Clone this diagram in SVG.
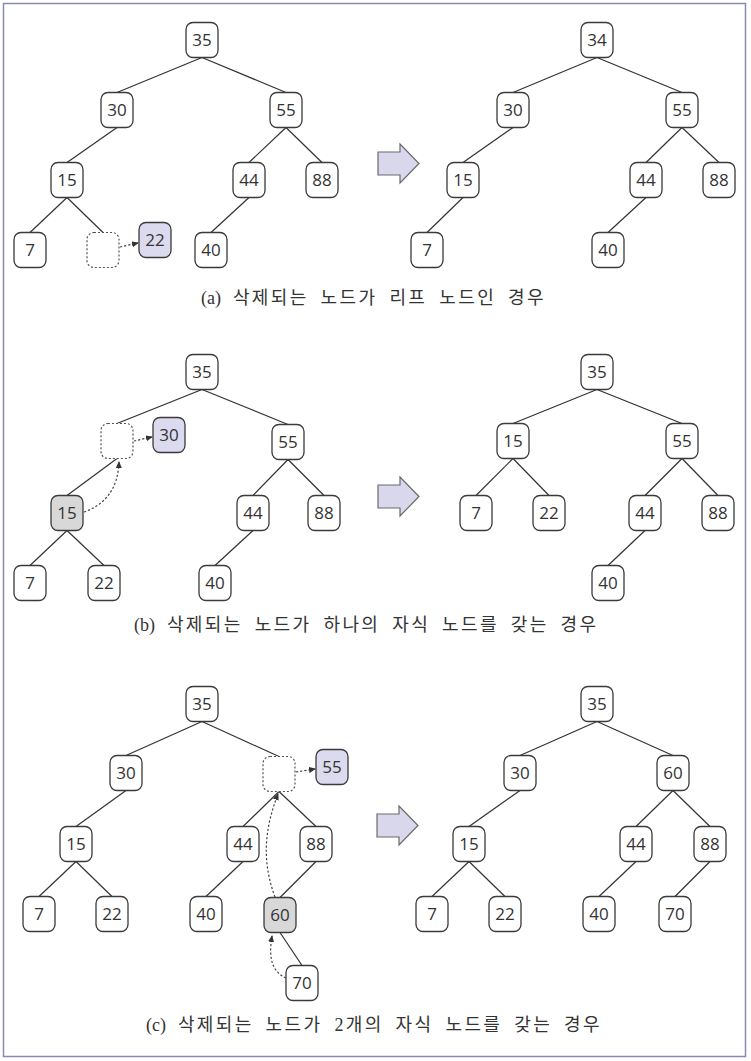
<svg xmlns="http://www.w3.org/2000/svg" width="751" height="1061" viewBox="0 0 751 1061">
<defs>
<style>
.n rect{fill:#fff;stroke:#3a3a3a;stroke-width:1.3}
.n text{font-family:"Open Sans","DejaVu Sans",sans-serif;font-size:17px;fill:#333;text-anchor:middle}
.p rect{fill:#dcdaee}
.g rect{fill:#d8d8d8}
.e rect{fill:#fff;stroke:#555;stroke-width:1.2;stroke-dasharray:2 2}
.edges line{stroke:#333;stroke-width:1.2}
.dot{fill:none;stroke:#444;stroke-width:1.2;stroke-dasharray:2.2 2;marker-end:url(#ah)}
.big{fill:#d9d7ec;stroke:#6a6a6a;stroke-width:1.2}
.cap{font-family:"Liberation Serif","Noto Sans CJK KR",serif;font-size:18px;fill:#333;letter-spacing:2.4px;word-spacing:5px}
.lbl{letter-spacing:0}
</style>
<marker id="ah" markerWidth="7" markerHeight="6" refX="6" refY="3" orient="auto" markerUnits="userSpaceOnUse">
<path d="M0,0 L7,3 L0,6 z" fill="#333"/>
</marker>
</defs>
<rect x="3.5" y="3.5" width="742" height="1053" fill="#fff" stroke="#8a8ab8" stroke-width="1.5"/>

<!-- connectors -->
<g id="connectors" class="edges">
<!-- (a) left -->
<line x1="202" y1="57.5" x2="117" y2="92.5"/>
<line x1="202" y1="57.5" x2="286" y2="92.5"/>
<line x1="117" y1="127.5" x2="67" y2="162.5"/>
<line x1="67" y1="197.5" x2="30" y2="232.5"/>
<line x1="67" y1="197.5" x2="103" y2="232.5"/>
<line x1="286" y1="127.5" x2="249" y2="162.5"/>
<line x1="286" y1="127.5" x2="322" y2="162.5"/>
<line x1="249" y1="197.5" x2="211" y2="232.5"/>
<!-- (a) right -->
<line x1="597" y1="57.5" x2="513" y2="92.5"/>
<line x1="597" y1="57.5" x2="682" y2="92.5"/>
<line x1="513" y1="127.5" x2="463" y2="162.5"/>
<line x1="463" y1="197.5" x2="427" y2="232.5"/>
<line x1="682" y1="127.5" x2="646" y2="162.5"/>
<line x1="682" y1="127.5" x2="719" y2="162.5"/>
<line x1="646" y1="197.5" x2="608" y2="232.5"/>
<!-- (b) left -->
<line x1="202" y1="389.5" x2="117" y2="423.5"/>
<line x1="202" y1="389.5" x2="288" y2="424.5"/>
<line x1="117" y1="458.5" x2="67" y2="495.5"/>
<line x1="67" y1="530.5" x2="30" y2="565.5"/>
<line x1="67" y1="530.5" x2="104" y2="565.5"/>
<line x1="288" y1="459.5" x2="253" y2="495.5"/>
<line x1="288" y1="459.5" x2="324" y2="495.5"/>
<line x1="253" y1="530.5" x2="215" y2="565.5"/>
<!-- (b) right -->
<line x1="597" y1="389.5" x2="513" y2="423.5"/>
<line x1="597" y1="389.5" x2="682" y2="423.5"/>
<line x1="513" y1="458.5" x2="476" y2="495.5"/>
<line x1="513" y1="458.5" x2="549" y2="495.5"/>
<line x1="682" y1="458.5" x2="645" y2="495.5"/>
<line x1="682" y1="458.5" x2="718" y2="495.5"/>
<line x1="645" y1="530.5" x2="608" y2="565.5"/>
<!-- (c) left -->
<line x1="202" y1="721.5" x2="126" y2="755.5"/>
<line x1="202" y1="721.5" x2="279" y2="756.5"/>
<line x1="126" y1="790.5" x2="76" y2="826.5"/>
<line x1="76" y1="861.5" x2="39" y2="896.5"/>
<line x1="76" y1="861.5" x2="112" y2="896.5"/>
<line x1="279" y1="791.5" x2="243" y2="826.5"/>
<line x1="279" y1="791.5" x2="316" y2="826.5"/>
<line x1="243" y1="861.5" x2="206" y2="896.5"/>
<line x1="316" y1="861.5" x2="280" y2="897.5"/>
<line x1="280" y1="932.5" x2="302" y2="965.5"/>
<!-- (c) right -->
<line x1="597" y1="721.5" x2="520" y2="755.5"/>
<line x1="597" y1="721.5" x2="673" y2="755.5"/>
<line x1="520" y1="790.5" x2="469" y2="826.5"/>
<line x1="469" y1="861.5" x2="432" y2="896.5"/>
<line x1="469" y1="861.5" x2="505" y2="896.5"/>
<line x1="673" y1="790.5" x2="636" y2="826.5"/>
<line x1="673" y1="790.5" x2="710" y2="826.5"/>
<line x1="636" y1="861.5" x2="599" y2="896.5"/>
<line x1="710" y1="861.5" x2="675" y2="896.5"/>
<!-- dotted move arrows -->
<path class="dot" d="M120,247 L138,243"/>
<path class="dot" d="M134,441 L152,437"/>
<path class="dot" d="M84,512 C104,505 118,490 119,462"/>
<path class="dot" d="M296,772 L315,769"/>
<path class="dot" d="M275,897 C262,862 264,830 278,794"/>
<path class="dot" d="M286,978 C273,972 268,960 272,936"/>
</g>

<!-- (a) left nodes -->
<g id="a1-35" class="n"><rect x="186" y="22.5" width="32" height="35" rx="7"/><text x="202" y="46">35</text></g>
<g id="a1-30" class="n"><rect x="101" y="92.5" width="32" height="35" rx="7"/><text x="117" y="116">30</text></g>
<g id="a1-55" class="n"><rect x="270" y="92.5" width="32" height="35" rx="7"/><text x="286" y="116">55</text></g>
<g id="a1-15" class="n"><rect x="51" y="162.5" width="32" height="35" rx="7"/><text x="67" y="186">15</text></g>
<g id="a1-44" class="n"><rect x="233" y="162.5" width="32" height="35" rx="7"/><text x="249" y="186">44</text></g>
<g id="a1-88" class="n"><rect x="306" y="162.5" width="32" height="35" rx="7"/><text x="322" y="186">88</text></g>
<g id="a1-7" class="n"><rect x="14" y="232.5" width="32" height="35" rx="7"/><text x="30" y="256">7</text></g>
<g id="a1-empty" class="e"><rect x="87" y="232.5" width="32" height="35" rx="7"/></g>
<g id="a1-22" class="n p"><rect x="139" y="222.5" width="32" height="35" rx="7"/><text x="155" y="246">22</text></g>
<g id="a1-40" class="n"><rect x="195" y="232.5" width="32" height="35" rx="7"/><text x="211" y="256">40</text></g>

<!-- (a) right nodes -->
<g id="a2-34" class="n"><rect x="581" y="22.5" width="32" height="35" rx="7"/><text x="597" y="46">34</text></g>
<g id="a2-30" class="n"><rect x="497" y="92.5" width="32" height="35" rx="7"/><text x="513" y="116">30</text></g>
<g id="a2-55" class="n"><rect x="666" y="92.5" width="32" height="35" rx="7"/><text x="682" y="116">55</text></g>
<g id="a2-15" class="n"><rect x="447" y="162.5" width="32" height="35" rx="7"/><text x="463" y="186">15</text></g>
<g id="a2-44" class="n"><rect x="630" y="162.5" width="32" height="35" rx="7"/><text x="646" y="186">44</text></g>
<g id="a2-88" class="n"><rect x="703" y="162.5" width="32" height="35" rx="7"/><text x="719" y="186">88</text></g>
<g id="a2-7" class="n"><rect x="411" y="232.5" width="32" height="35" rx="7"/><text x="427" y="256">7</text></g>
<g id="a2-40" class="n"><rect x="592" y="232.5" width="32" height="35" rx="7"/><text x="608" y="256">40</text></g>

<!-- (b) left nodes -->
<g id="b1-35" class="n"><rect x="186" y="354.5" width="32" height="35" rx="7"/><text x="202" y="378">35</text></g>
<g id="b1-empty" class="e"><rect x="101" y="423.5" width="32" height="35" rx="7"/></g>
<g id="b1-30" class="n p"><rect x="153" y="417.5" width="32" height="35" rx="7"/><text x="169" y="441">30</text></g>
<g id="b1-55" class="n"><rect x="272" y="424.5" width="32" height="35" rx="7"/><text x="288" y="448">55</text></g>
<g id="b1-15" class="n g"><rect x="51" y="495.5" width="32" height="35" rx="7"/><text x="67" y="519">15</text></g>
<g id="b1-44" class="n"><rect x="237" y="495.5" width="32" height="35" rx="7"/><text x="253" y="519">44</text></g>
<g id="b1-88" class="n"><rect x="308" y="495.5" width="32" height="35" rx="7"/><text x="324" y="519">88</text></g>
<g id="b1-7" class="n"><rect x="14" y="565.5" width="32" height="35" rx="7"/><text x="30" y="589">7</text></g>
<g id="b1-22" class="n"><rect x="88" y="565.5" width="32" height="35" rx="7"/><text x="104" y="589">22</text></g>
<g id="b1-40" class="n"><rect x="199" y="565.5" width="32" height="35" rx="7"/><text x="215" y="589">40</text></g>

<!-- (b) right nodes -->
<g id="b2-35" class="n"><rect x="581" y="354.5" width="32" height="35" rx="7"/><text x="597" y="378">35</text></g>
<g id="b2-15" class="n"><rect x="497" y="423.5" width="32" height="35" rx="7"/><text x="513" y="447">15</text></g>
<g id="b2-55" class="n"><rect x="666" y="423.5" width="32" height="35" rx="7"/><text x="682" y="447">55</text></g>
<g id="b2-7" class="n"><rect x="460" y="495.5" width="32" height="35" rx="7"/><text x="476" y="519">7</text></g>
<g id="b2-22" class="n"><rect x="533" y="495.5" width="32" height="35" rx="7"/><text x="549" y="519">22</text></g>
<g id="b2-44" class="n"><rect x="629" y="495.5" width="32" height="35" rx="7"/><text x="645" y="519">44</text></g>
<g id="b2-88" class="n"><rect x="702" y="495.5" width="32" height="35" rx="7"/><text x="718" y="519">88</text></g>
<g id="b2-40" class="n"><rect x="592" y="565.5" width="32" height="35" rx="7"/><text x="608" y="589">40</text></g>

<!-- (c) left nodes -->
<g id="c1-35" class="n"><rect x="186" y="686.5" width="32" height="35" rx="7"/><text x="202" y="710">35</text></g>
<g id="c1-30" class="n"><rect x="110" y="755.5" width="32" height="35" rx="7"/><text x="126" y="779">30</text></g>
<g id="c1-empty" class="e"><rect x="263" y="756.5" width="32" height="35" rx="7"/></g>
<g id="c1-55" class="n p"><rect x="316" y="749.5" width="32" height="35" rx="7"/><text x="332" y="773">55</text></g>
<g id="c1-15" class="n"><rect x="60" y="826.5" width="32" height="35" rx="7"/><text x="76" y="850">15</text></g>
<g id="c1-44" class="n"><rect x="227" y="826.5" width="32" height="35" rx="7"/><text x="243" y="850">44</text></g>
<g id="c1-88" class="n"><rect x="300" y="826.5" width="32" height="35" rx="7"/><text x="316" y="850">88</text></g>
<g id="c1-7" class="n"><rect x="23" y="896.5" width="32" height="35" rx="7"/><text x="39" y="920">7</text></g>
<g id="c1-22" class="n"><rect x="96" y="896.5" width="32" height="35" rx="7"/><text x="112" y="920">22</text></g>
<g id="c1-40" class="n"><rect x="190" y="896.5" width="32" height="35" rx="7"/><text x="206" y="920">40</text></g>
<g id="c1-60" class="n g"><rect x="264" y="897.5" width="32" height="35" rx="7"/><text x="280" y="921">60</text></g>
<g id="c1-70" class="n"><rect x="286" y="965.5" width="32" height="35" rx="7"/><text x="302" y="989">70</text></g>

<!-- (c) right nodes -->
<g id="c2-35" class="n"><rect x="581" y="686.5" width="32" height="35" rx="7"/><text x="597" y="710">35</text></g>
<g id="c2-30" class="n"><rect x="504" y="755.5" width="32" height="35" rx="7"/><text x="520" y="779">30</text></g>
<g id="c2-60" class="n"><rect x="657" y="755.5" width="32" height="35" rx="7"/><text x="673" y="779">60</text></g>
<g id="c2-15" class="n"><rect x="453" y="826.5" width="32" height="35" rx="7"/><text x="469" y="850">15</text></g>
<g id="c2-44" class="n"><rect x="620" y="826.5" width="32" height="35" rx="7"/><text x="636" y="850">44</text></g>
<g id="c2-88" class="n"><rect x="694" y="826.5" width="32" height="35" rx="7"/><text x="710" y="850">88</text></g>
<g id="c2-7" class="n"><rect x="416" y="896.5" width="32" height="35" rx="7"/><text x="432" y="920">7</text></g>
<g id="c2-22" class="n"><rect x="489" y="896.5" width="32" height="35" rx="7"/><text x="505" y="920">22</text></g>
<g id="c2-40" class="n"><rect x="583" y="896.5" width="32" height="35" rx="7"/><text x="599" y="920">40</text></g>
<g id="c2-70" class="n"><rect x="659" y="896.5" width="32" height="35" rx="7"/><text x="675" y="920">70</text></g>

<!-- big arrows -->
<g id="arrow-a"><polygon class="big" points="378,152 400,152 400,144 419,163.5 400,183 400,175 378,175"/></g>
<g id="arrow-b"><polygon class="big" points="378,485 400,485 400,477 419,496.5 400,516 400,508 378,508"/></g>
<g id="arrow-c"><polygon class="big" points="377,814 399,814 399,806 418,825.5 399,845 399,837 377,837"/></g>

<!-- captions -->
<text id="cap-a" class="cap" x="201" y="304"><tspan class="lbl">(a)</tspan> 삭제되는 노드가 리프 노드인 경우</text>
<text id="cap-b" class="cap" x="134" y="631"><tspan class="lbl">(b)</tspan> 삭제되는 노드가 하나의 자식 노드를 갖는 경우</text>
<text id="cap-c" class="cap" x="146" y="1031"><tspan class="lbl">(c)</tspan> 삭제되는 노드가 2개의 자식 노드를 갖는 경우</text>
</svg>
